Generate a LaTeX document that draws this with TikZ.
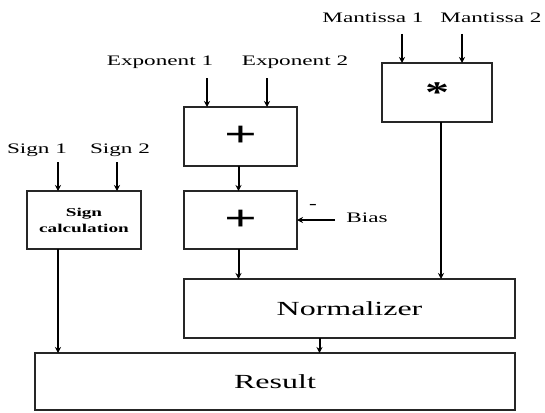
\documentclass[tikz,border=0pt]{standalone}
\usepackage{fontspec}
\usepackage{graphicx}
\setmainfont{Liberation Serif}
\usetikzlibrary{arrows.meta}
\begin{document}
\begin{tikzpicture}[x=1pt,y=-1pt,line cap=rect,
  unitbox/.style={draw, line width=1.9pt, black!85, text=black, inner sep=0, outer sep=0, anchor=north west},
  inlabel/.style={inner sep=0, outer sep=0, font=\fontsize{14.5pt}{16pt}\selectfont},
  flow/.style={line width=2pt, line cap=butt, -{Stealth[length=6pt,width=6pt]}}]
\def\diagwide#1{\scalebox{1.6}[1]{#1}}
\useasboundingbox (0,0) rectangle (545,412);
% boxes
\node [unitbox, minimum width=114pt, minimum height=58pt, align=center,
  font=\fontsize{12pt}{16pt}\selectfont\bfseries] (sgn) at (27,191)
  {\diagwide{Sign}\\\diagwide{calculation}};
\node [unitbox, minimum width=113pt, minimum height=59pt,
  font=\fontsize{36pt}{36pt}\selectfont\bfseries] (addA) at (184,107) {\raisebox{-3pt}{\diagwide{+}}};
\node [unitbox, minimum width=113pt, minimum height=58pt,
  font=\fontsize{36pt}{36pt}\selectfont\bfseries] (addB) at (184,191) {\raisebox{-8pt}{\diagwide{+}}};
\node [unitbox, minimum width=110pt, minimum height=59pt,
  font=\fontsize{30pt}{30pt}\selectfont\bfseries] (mul) at (382,63) {\diagwide{*}};
\node [unitbox, minimum width=331pt, minimum height=59pt,
  font=\fontsize{20pt}{20pt}\selectfont] (norm) at (184,279) {\diagwide{Normalizer}};
\node [unitbox, minimum width=480pt, minimum height=57pt,
  font=\fontsize{20pt}{20pt}\selectfont] (res) at (35,353) {\diagwide{Result}};
% input labels
\node [inlabel] (sgnA) at (37,150) {\diagwide{Sign 1}};
\node [inlabel] (sgnB) at (120,150) {\diagwide{Sign 2}};
\node [inlabel] (expA) at (160,62) {\diagwide{Exponent 1}};
\node [inlabel] (expB) at (295,62) {\diagwide{Exponent 2}};
\node [inlabel] (manA) at (373,18) {\diagwide{Mantissa 1}};
\node [inlabel] (manB) at (491,18) {\diagwide{Mantissa 2}};
\node [inlabel] (bias) at (367,218) {\diagwide{Bias}};
\node [inlabel, font=\fontsize{14.5pt}{16pt}\selectfont\bfseries] (minus) at (313,206) {\diagwide{-}};
% free ends of the input arrows
\coordinate (sA) at (58,162);
\coordinate (sB) at (117,162);
\coordinate (eA) at (207,78);
\coordinate (eB) at (267,78);
\coordinate (mA) at (402,34);
\coordinate (mB) at (462,34);
\coordinate (bI) at (335,220);
% connectors
\draw [flow] (sA) -- (sA |- sgn.north);
\draw [flow] (sB) -- (sB |- sgn.north);
\draw [flow] (eA) -- (eA |- addA.north);
\draw [flow] (eB) -- (eB |- addA.north);
\draw [flow] (mA) -- (mA |- mul.north);
\draw [flow] (mB) -- (mB |- mul.north);
\draw [flow] (bI) -- (bI -| addB.east);
\draw [flow] ([xshift=-2pt]addA.south) -- ([xshift=-2pt]addB.north);
\draw [flow] ([xshift=-2pt]addB.south) -- ([xshift=-2pt]addB.south |- norm.north);
\draw [flow] ([xshift=4pt]mul.south) -- ([xshift=4pt]mul.south |- norm.north);
\draw [flow] (sA |- sgn.south) -- (sA |- res.north);
\draw [flow] ([xshift=-30pt]norm.south) -- ([xshift=-30pt]norm.south |- res.north);
\end{tikzpicture}
\end{document}
